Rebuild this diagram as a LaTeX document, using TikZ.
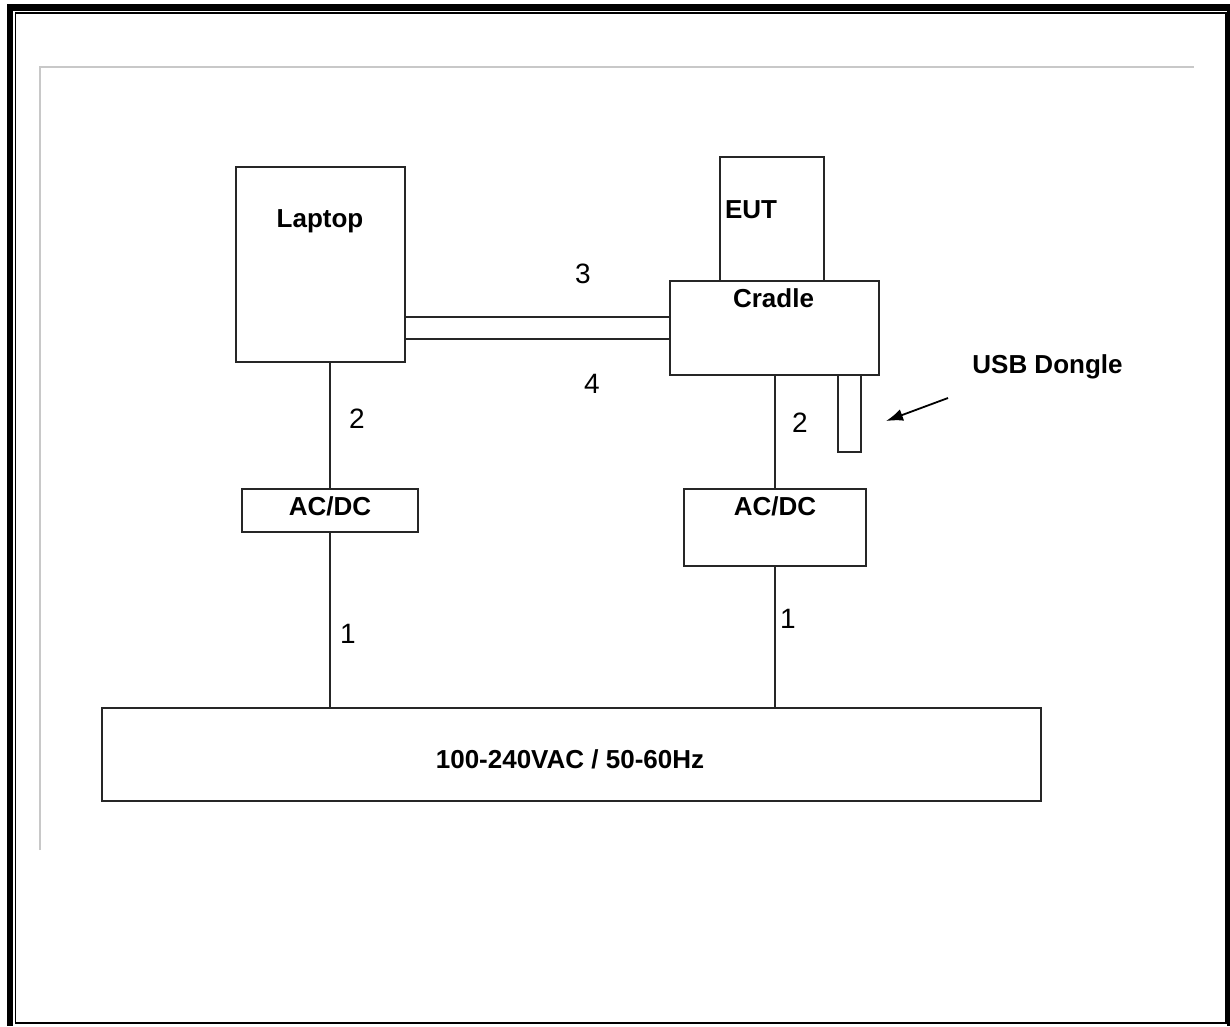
\documentclass[tikz,border=0pt]{standalone}
\usepackage{fontspec}
\setmainfont{Liberation Sans}
\usetikzlibrary{arrows.meta,calc}
\definecolor{pageGrey}{RGB}{200,200,200}
\tikzset{setuppanel/.style={
  x=1pt, y=-1pt,
  unit/.style={draw=black!85, line width=1.9pt, inner sep=0pt},
  tag/.style={anchor=base, inner sep=0pt, font=\fontsize{26}{30}\selectfont\bfseries},
  num/.style={anchor=base, inner sep=0pt, font=\fontsize{28}{32}\selectfont},
  wire/.style={line width=1.9pt, draw=black!85},
  pointer/.style={-{Latex[length=17pt,width=12pt]}, line width=1.8pt},
}}

\begin{document}
\begin{tikzpicture}[setuppanel]
\useasboundingbox (0,0) rectangle (1230,1026);
% ---- page frame ----
\fill (7,4) rectangle (13,1026);
\fill (7,4) rectangle (1230,11);
\fill (1227,4) rectangle (1230,1026);
\draw[line width=1.5pt] (15.5,13) rectangle (1225.8,1023);
\draw[pageGrey, line width=2pt] (40,850) -- (40,67) -- (1194,67);

% ---- units ----
\node[unit, minimum width=169pt, minimum height=195pt] (laptop) at (320.5,264.5) {};
\node[unit, minimum width=104pt, minimum height=124pt] (eut)    at (772,219)     {};
\node[unit, minimum width=209pt, minimum height=94pt]  (cradle) at (774.5,328)   {};
\node[unit, minimum width=23pt,  minimum height=77pt]  (dongle) at (849.5,413.5) {};
\node[unit, minimum width=176pt, minimum height=43pt]  (acdcL)  at (330,510.5)   {};
\node[unit, minimum width=182pt, minimum height=77pt]  (acdcR)  at (775,527.5)   {};
\node[unit, minimum width=939pt, minimum height=93pt]  (mains)  at (571.5,754.5) {};

% ---- texts ----
\node[tag] (laptopLbl) at (320,227)   {Laptop};
\node[tag] (eutLbl)    at (751,218)   {EUT};
\node[tag] (cradleLbl) at (773.5,307) {Cradle};
\node[tag] (dongleLbl) at (1047.5,373) {USB Dongle};
\node[tag] (acdcLLbl)  at (330,515)   {AC/DC};
\node[tag] (acdcRLbl)  at (775,515)   {AC/DC};
\node[tag] (mainsLbl)  at (570,768)   {100-240VAC / 50-60Hz};

% ---- cables ----
\draw[wire] ([yshift=11pt]cradle.west) -- ([yshift=11pt]cradle.west -| laptop.east);
\draw[wire] ([yshift=-11pt]cradle.west) -- ([yshift=-11pt]cradle.west -| laptop.east);
\draw[wire] (acdcL.north |- laptop.south) -- (acdcL.north);
\draw[wire] (acdcL.south) -- (acdcL.south |- mains.north);
\draw[wire] (acdcR.north |- cradle.south) -- (acdcR.north);
\draw[wire] (acdcR.south) -- (acdcR.south |- mains.north);

% ---- cable numbers ----
\node[num] (n3)  at (583,283)  {3};
\node[num] (n4)  at (592,393)  {4};
\node[num] (n2L) at (357,428)  {2};
\node[num] (n2R) at (800,432)  {2};
\node[num] (n1L) at (348,643)  {1};
\node[num] (n1R) at (788,628)  {1};

% ---- pointer to dongle ----
\coordinate (ptrStart) at (948,398);
\coordinate (ptrEnd)   at (886,421);
\draw[pointer] (ptrStart) -- (ptrEnd);
\end{tikzpicture}
\end{document}
